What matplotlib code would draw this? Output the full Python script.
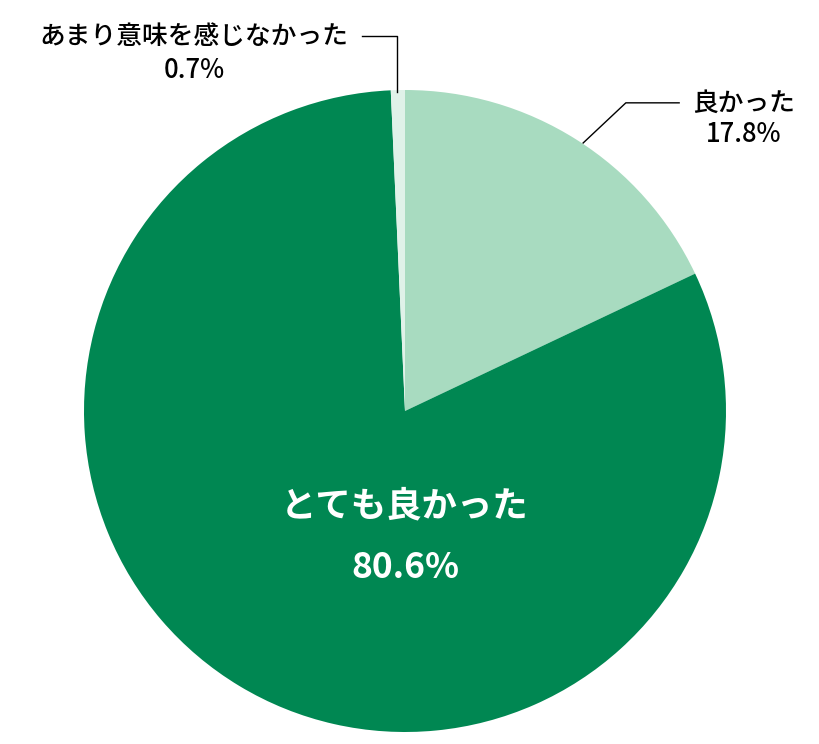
import matplotlib.pyplot as plt

plt.rcParams['font.family'] = ['Noto Sans CJK JP', 'DejaVu Sans']

labels = ['良かった', 'とても良かった', 'あまり意味を感じなかった']
values = [17.8, 80.6, 0.7]
colors = ['#a8dbc0', '#008752', '#e0f2e9']

fig = plt.figure(figsize=(8.2, 7.44), dpi=100)
# pie centre at (405, 411) px, radius 321 px
ax = fig.add_axes([(405 - 321) / 820, (744 - 411 - 321) / 744, 642 / 820, 642 / 744])
ax.pie(values, colors=colors, startangle=90, counterclock=False, radius=1)
ax.set_xlim(-1, 1)
ax.set_ylim(-1, 1)
ax.axis('off')

# inside label
ax.text(0, -0.296, labels[1], ha='center', va='center', color='white',
        fontsize=25.5, fontweight='bold')
ax.text(0, -0.486, f'{values[1]}%', ha='center', va='center', color='white',
        fontsize=25.5, fontweight='bold')

# 良かった
ax.plot([0.555, 0.688, 0.854], [0.835, 0.960, 0.960], color='black', lw=1, clip_on=False)
ax.text(1.056, 0.960, labels[0], ha='center', va='center', fontsize=18.5, fontweight='medium')
ax.text(1.056, 0.860, f'{values[0]}%', ha='center', va='center', fontsize=18.5, fontweight='medium')

# あまり意味を感じなかった
ax.plot([-0.025, -0.025, -0.134], [0.994, 1.168, 1.168], color='black', lw=1, clip_on=False)
ax.text(-0.657, 1.168, labels[2], ha='center', va='center', fontsize=18.5, fontweight='medium')
ax.text(-0.657, 1.062, f'{values[2]}%', ha='center', va='center', fontsize=18.5, fontweight='medium')

fig.savefig('out.png', dpi=100)
